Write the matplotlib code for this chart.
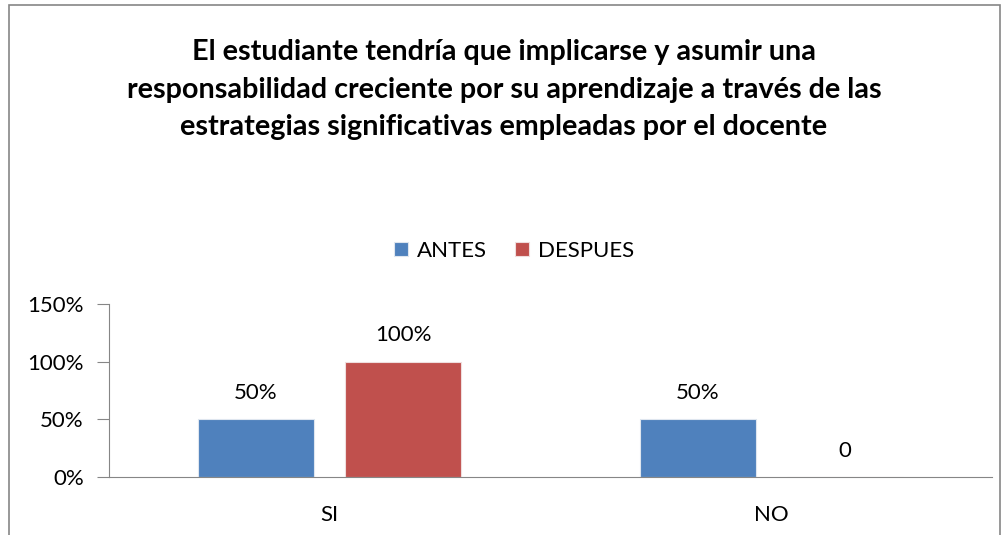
import numpy as np
import matplotlib.pyplot as plt
from matplotlib.patches import Rectangle

plt.rcParams['font.family'] = ['Lato', 'DejaVu Sans']

categories = ['SI', 'NO']
antes = [0.5, 0.5]
despues = [1.0, 0.0]
antes_labels = ['50%', '50%']
despues_labels = ['100%', '0']
yticks = [0, 0.5, 1.0, 1.5]
ytick_labels = ['0%', '50%', '100%', '150%']
title = ('El estudiante tendría que implicarse y asumir una\n'
         'responsabilidad creciente por su aprendizaje a través de las\n'
         'estrategias significativas empleadas por el docente')

fig = plt.figure(figsize=(10.08, 5.35), dpi=100)
ax = fig.add_axes([0.108, 0.108, 0.876, 0.324])

x = np.arange(len(categories))
w = 0.263
off = 0.1665
b1 = ax.bar(x - off, antes, w, color='#4F81BD', edgecolor='#dfe6ef', linewidth=0.8, label='ANTES')
b2 = ax.bar(x + off, despues, w, color='#C0504D', edgecolor='#efdede', linewidth=0.8, label='DESPUES')
ax.bar_label(b1, labels=antes_labels, padding=12, fontsize=16)
ax.bar_label(b2, labels=despues_labels, padding=12, fontsize=16)

ax.set_xlim(-0.5, 1.5)
ax.set_ylim(0, 1.5)
ax.set_yticks(yticks)
ax.set_yticklabels(ytick_labels, fontsize=16)
ax.set_xticks(x)
ax.set_xticklabels(categories, fontsize=16)
ax.tick_params(axis='x', length=0, pad=20)
ax.tick_params(axis='y', length=9, color='#868686', pad=9)
for s in ['top', 'right']:
    ax.spines[s].set_visible(False)
for s in ['left', 'bottom']:
    ax.spines[s].set_color('#868686')

fig.text(0.5, 0.832, title, ha='center', va='center', fontsize=20.7,
         fontweight='bold', linespacing=1.55)
fig.legend(handles=[b1, b2], loc='center', bbox_to_anchor=(0.51, 0.531), ncol=2,
           frameon=False, fontsize=16, handlelength=0.6, handleheight=0.6,
           handletextpad=0.4, columnspacing=1.3)

fig.patches.append(Rectangle((9 / 1008, -0.01), 991 / 1008, 1.0, transform=fig.transFigure,
                             fill=False, edgecolor='#868686', linewidth=1.2))

fig.savefig('out.png', dpi=100)
